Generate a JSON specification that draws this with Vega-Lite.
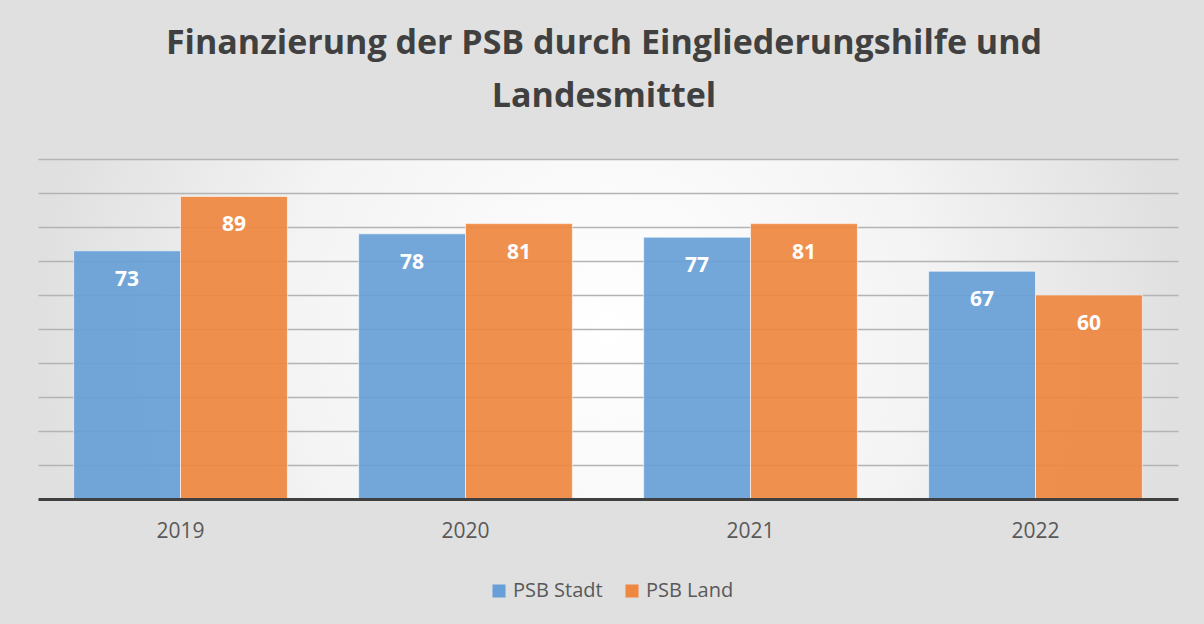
{
  "$schema": "https://vega.github.io/schema/vega-lite/v6.json",
  "autosize": {"type": "none"},
  "width": 1140,
  "height": 340,
  "padding": {"left": 38, "top": 159, "right": 26, "bottom": 125},
  "background": "#e0e0e0",
  "title": {
    "text": ["Finanzierung der PSB durch Eingliederungshilfe und", "Landesmittel"],
    "font": "Open Sans",
    "fontSize": 34,
    "fontWeight": "bold",
    "color": "#404040",
    "lineHeight": 53,
    "anchor": "middle",
    "dx": -4,
    "offset": 45
  },
  "config": {
    "view": {
      "stroke": null,
      "fill": {
        "gradient": "radial",
        "x1": 0.5, "y1": 0.5, "r1": 0,
        "x2": 0.5, "y2": 0.5, "r2": 0.5,
        "stops": [
          {"offset": 0, "color": "#ffffff"},
          {"offset": 0.55, "color": "#f4f4f4"},
          {"offset": 1, "color": "#e0e0e0"}
        ]
      }
    },
    "font": "Open Sans"
  },
  "data": {
    "values": [
      {"Jahr": "2019", "Serie": "PSB Stadt", "Wert": 73},
      {"Jahr": "2019", "Serie": "PSB Land", "Wert": 89},
      {"Jahr": "2020", "Serie": "PSB Stadt", "Wert": 78},
      {"Jahr": "2020", "Serie": "PSB Land", "Wert": 81},
      {"Jahr": "2021", "Serie": "PSB Stadt", "Wert": 77},
      {"Jahr": "2021", "Serie": "PSB Land", "Wert": 81},
      {"Jahr": "2022", "Serie": "PSB Stadt", "Wert": 67},
      {"Jahr": "2022", "Serie": "PSB Land", "Wert": 60}
    ]
  },
  "encoding": {
    "x": {
      "field": "Jahr",
      "type": "nominal",
      "scale": {"paddingInner": 0.25, "paddingOuter": 0.125},
      "axis": {
        "title": null,
        "labelAngle": 0,
        "labelFont": "Open Sans",
        "labelFontSize": 21,
        "labelColor": "#595959",
        "labelPadding": 21,
        "ticks": false,
        "domainColor": "#404040",
        "domainWidth": 3,
        "grid": false,
        "zindex": 2
      }
    },
    "xOffset": {"field": "Serie", "sort": ["PSB Stadt", "PSB Land"]},
    "y": {
      "field": "Wert",
      "type": "quantitative",
      "scale": {"domain": [0, 100], "nice": false},
      "axis": {
        "title": null,
        "labels": false,
        "ticks": false,
        "domain": false,
        "values": [10, 20, 30, 40, 50, 60, 70, 80, 90, 100],
        "gridColor": "#b4b4b4",
        "gridWidth": 1.5,
        "zindex": 0
      }
    }
  },
  "layer": [
    {
      "mark": {"type": "bar", "fillOpacity": 0.92, "stroke": "#ffffff", "strokeWidth": 1, "strokeOpacity": 0.6},
      "encoding": {
        "color": {
          "field": "Serie",
          "type": "nominal",
          "sort": ["PSB Stadt", "PSB Land"],
          "scale": {"domain": ["PSB Stadt", "PSB Land"], "range": ["#689FD6", "#EE8740"]},
          "legend": {
            "title": null,
            "orient": "none",
            "legendX": 451,
            "legendY": 422,
            "direction": "horizontal",
            "symbolType": "square",
            "symbolSize": 170,
            "symbolStrokeWidth": 0,
            "labelFont": "Open Sans",
            "labelFontSize": 20,
            "labelColor": "#595959",
            "columnPadding": 19
          }
        }
      }
    },
    {
      "mark": {"type": "text", "font": "Open Sans", "fontSize": 21, "fontWeight": "bold", "color": "#ffffff", "baseline": "middle", "dy": 29},
      "encoding": {
        "text": {"field": "Wert", "type": "quantitative"}
      }
    }
  ]
}
